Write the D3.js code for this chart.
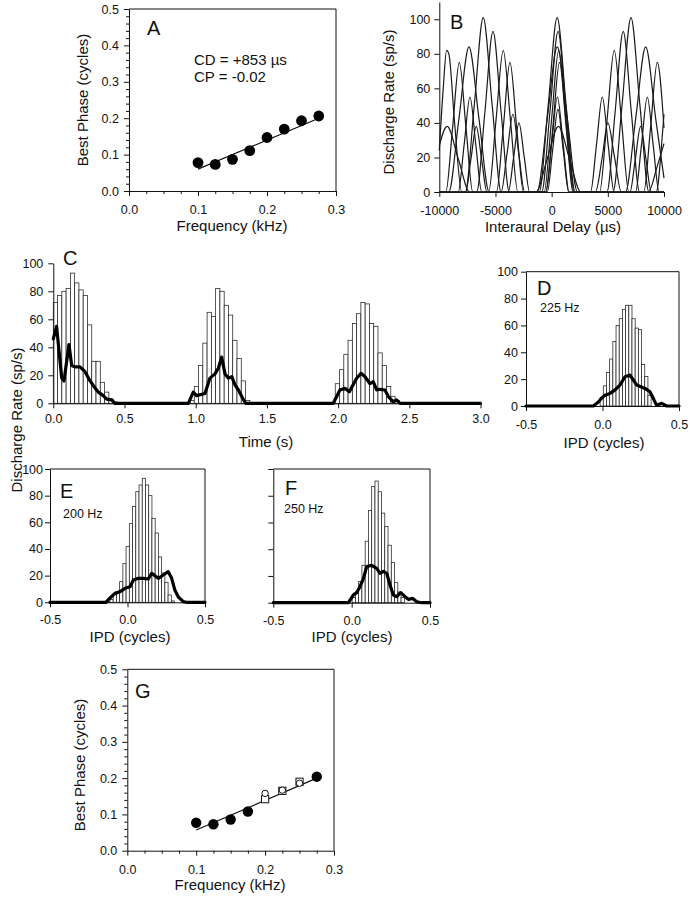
<!DOCTYPE html>
<html><head><meta charset="utf-8">
<script src="https://cdn.jsdelivr.net/npm/d3@7/dist/d3.min.js"></script>
<style>
body{margin:0;background:#fff;}
svg{display:block;font-family:"Liberation Sans",Arial,Helvetica,sans-serif;}
.tick text{font-size:12.5px;fill:#111;}
.domain,.tick line{stroke:#111;stroke-width:1;}
.title{font-size:15px;fill:#111;}
.plabel{font-size:20px;fill:#111;}
.note{font-size:12.5px;fill:#111;}
</style></head><body>
<svg id="fig" width="692" height="899"></svg>
<script>
// ---------- Panel A ----------
const aFreq  = [0.1,0.125,0.15,0.175,0.2,0.225,0.25,0.275];
const aPhase = [0.078,0.073,0.087,0.111,0.147,0.170,0.193,0.206];
const aFitFreq  = [0.1,0.275];
const aFitPhase = [0.06,0.2];
const phaseTicks = [0,0.1,0.2,0.3,0.4,0.5];
const phaseMinor = [0.02,0.04,0.06,0.08,0.12,0.14,0.16,0.18,0.22,0.24,0.26,0.28,0.32,0.34,0.36,0.38,0.42,0.44,0.46,0.48];
const freqTicks = [0,0.1,0.2,0.3];
const freqMinor = [0.025,0.05,0.075,0.125,0.15,0.175,0.225,0.25,0.275];

// ---------- Panel B (delay curves, µs vs sp/s) ----------
const b100 = [[-10000,27],[-9300,38],[-8300,19],[-7300,0],[-1400,0],[-400,19],[600,38],[1600,19],[2600,0],[8600,0],[9400,15],[10000,28]];
const b125 = [[-10000,0],[-9160,0],[-8260,42],[-7360,84],[-6460,42],[-5560,0],[-1300,0],[-400,42],[500,84],[1400,42],[2300,0],[6570,0],[7470,42],[8370,84],[9270,42],[10000,8]];
const b150 = [[-10000,0],[-7690,0],[-6890,50],[-6090,101],[-5290,50],[-4490,0],[-1110,0],[-310,50],[490,101],[1290,50],[2090,0],[5460,0],[6260,50],[7060,101],[7860,50],[8660,0],[10000,0]];
const b175 = [[-10000,0],[-6670,0],[-5945,46],[-5220,93],[-4495,46],[-3770,0],[-880,0],[-155,46],[570,93],[1295,46],[2020,0],[4920,0],[5645,46],[6370,93],[7095,46],[7820,0],[10000,0]];
const b200 = [[-10000,24],[-9650,60],[-9350,82],[-9150,80],[-8650,41],[-8000,0],[-5610,0],[-4960,41],[-4310,82],[-3660,41],[-3010,0],[-670,0],[-20,41],[630,82],[1280,41],[1930,0],[4270,0],[4920,41],[5570,82],[6220,41],[6870,0],[9300,0],[9950,41],[10000,45]];
const b225 = [[-10000,0],[-9420,0],[-8820,37],[-8220,75],[-7620,37],[-7020,0],[-4910,0],[-4310,37],[-3710,75],[-3110,37],[-2510,0],[-500,0],[100,37],[700,75],[1300,37],[1900,0],[3900,0],[4500,20],[5000,40],[5600,20],[6200,0],[8200,0],[8800,37],[9400,75],[10000,37]];
const b250 = [[-10000,0],[-8320,0],[-7795,27],[-7270,55],[-6745,27],[-6220,0],[-4500,0],[-3975,22],[-3450,45],[-2925,22],[-2400,0],[-540,0],[-15,27],[510,55],[1035,27],[1560,0],[3460,0],[3985,27],[4510,55],[5035,27],[5560,0],[7465,0],[7990,27],[8515,55],[9040,27],[9565,0],[10000,0]];
const b275 = [[-10000,0],[-7660,0],[-7185,19],[-6710,38],[-6235,19],[-5760,0],[-3860,0],[-3385,20],[-2910,40],[-2435,20],[-1960,0],[-390,0],[85,24],[560,48],[1035,24],[1510,0],[6970,0],[7445,19],[7920,38],[8395,19],[8870,0],[10000,0]];
const bCurves = [b100,b125,b150,b175,b200,b225,b250,b275];
const delayTicks = [-10000,-5000,0,5000,10000];
const rateTicks = [0,20,40,60,80,100];

// ---------- Panel C (time histogram, bins of 0.03 s) ----------
const cBinWidth = 0.03;
const cBurstStart = [0, 0.96, 1.98];
const cBars1 = [72,77,80,82,93,86,81,77,56,30,30,15,8,3,1];
const cBars2 = [2,12,27,43,65,62,82,80,70,63,45,32,16,2];
const cBars3 = [14,24,35,45,57,64,72,71,57,55,36,27,12,5,2];
const cLine = [[0,46],[0.023,55],[0.059,18],[0.075,16],[0.11,42],[0.129,27],[0.152,26],[0.187,26],[0.223,22.6],[0.258,16],[0.293,11],[0.316,8],[0.351,5.5],[0.375,3],[0.41,2.5],[0.433,0],
  [0.948,0],[0.983,8],[1.006,5.5],[1.065,7],[1.10,18],[1.135,21],[1.159,25],[1.182,33],[1.206,21],[1.229,18],[1.253,19],[1.277,13],[1.30,9.5],[1.33,3.6],[1.35,0],
  [1.966,0],[2.013,9.5],[2.048,10.7],[2.079,8.3],[2.13,17.9],[2.161,21.4],[2.189,19],[2.224,14],[2.247,15.5],[2.271,9.5],[2.294,10],[2.329,9.5],[2.353,4.8],[2.388,1],[2.411,2.4],[2.435,0],[3.0,0]];
const timeTicks = [0,0.5,1,1.5,2,2.5,3];

// ---------- Panels D, E, F (IPD histograms, bins of 1/48 cycle) ----------
const ipdBin = 1/48;
const ipdTicks = [-0.5,0,0.5];
const dStart = -0.0156;
const dBars = [6,15,25,35,48,60,65,72,75,75,65,58,57,31,22,8];
const dLine = [[-0.5,0],[-0.06,0],[-0.027,3],[-0.005,6],[0.016,8],[0.049,9.4],[0.082,12],[0.114,15.6],[0.147,21.8],[0.18,23],[0.201,19.4],[0.224,15.6],[0.25,14.4],[0.278,13.1],[0.31,10.6],[0.332,5.7],[0.354,0.5],[0.387,2],[0.42,0],[0.5,0]];
const eStart = -0.134;
const eBars = [0.5,2,6.7,8,15.5,29,42,59,72,83,88,93,88,80,63,52,34,22,15,5.5,1];
const eLine = [[-0.5,0],[-0.14,0],[-0.12,2.5],[-0.081,6.7],[-0.048,8],[-0.016,10.5],[0.016,11.7],[0.038,16.7],[0.07,18],[0.102,18],[0.134,17.5],[0.156,21.7],[0.177,20],[0.199,18],[0.231,20.5],[0.263,23],[0.285,18],[0.306,9],[0.328,4],[0.36,0.5],[0.38,0],[0.5,0]];
const fStart = 0.003;
const fBars = [4,8,16,28,46,69,87,91,83,67,57,43,30,15,8,4];
const fLine = [[-0.5,0],[-0.02,0],[0.01,5.7],[0.032,7.5],[0.053,12],[0.075,18],[0.096,27],[0.128,28],[0.16,25.7],[0.181,22],[0.202,23.4],[0.224,22],[0.245,13.2],[0.266,5.7],[0.288,4.5],[0.313,7.5],[0.341,4.5],[0.362,2.5],[0.39,3.2],[0.415,0.7],[0.447,0],[0.5,0]];

// ---------- Panel G ----------
const gFilledFreq  = [0.1,0.125,0.15,0.175,0.275];
const gFilledPhase = [0.077,0.073,0.086,0.108,0.204];
const gCircFreq  = [0.2,0.225,0.25];
const gCircPhase = [0.158,0.167,0.186];
const gSqFreq  = [0.2,0.225,0.25];
const gSqPhase = [0.142,0.165,0.19];
const gFitFreq  = [0.1,0.275];
const gFitPhase = [0.057,0.2];

// =================== drawing ===================
const svg = d3.select("#fig");
const f1 = d => d.toFixed(1);
const fInt = d => String(d);
const none = () => "";

function axes(p){
  const g = svg.append("g");
  const xr = p.x.range(), yr = p.y.range();
  g.append("g").attr("transform",`translate(0,${yr[0]})`)
    .call(d3.axisBottom(p.x).tickValues(p.xTicks).tickFormat(p.xFmt).tickSize(5).tickSizeOuter(0).tickPadding(p.xPad));
  if (p.xMinor) {
    const m = g.append("g").attr("transform",`translate(0,${yr[0]})`)
      .call(d3.axisBottom(p.x).tickValues(p.xMinor).tickFormat(none).tickSize(3).tickSizeOuter(0));
    m.select(".domain").remove();
  }
  g.append("g").attr("transform",`translate(${xr[0]},0)`)
    .call(d3.axisLeft(p.y).tickValues(p.yTicks).tickFormat(p.yFmt).tickSize(5).tickSizeOuter(0).tickPadding(p.yPad));
  if (p.yMinor) {
    const m = g.append("g").attr("transform",`translate(${xr[0]},0)`)
      .call(d3.axisLeft(p.y).tickValues(p.yMinor).tickFormat(none).tickSize(3).tickSizeOuter(0));
    m.select(".domain").remove();
  }
  if (p.box) {
    g.append("line").attr("x1",xr[0]).attr("x2",xr[1]).attr("y1",yr[1]).attr("y2",yr[1]).attr("stroke","#111");
    g.append("line").attr("x1",xr[1]).attr("x2",xr[1]).attr("y1",yr[0]).attr("y2",yr[1]).attr("stroke","#111");
  }
  return g;
}
function ytitle(txt, bx, cy){
  svg.append("text").attr("class","title").attr("text-anchor","middle")
    .attr("transform",`translate(${bx},${cy}) rotate(-90)`).text(txt);
}
function xtitle(txt, cx, by){
  svg.append("text").attr("class","title").attr("text-anchor","middle").attr("x",cx).attr("y",by).text(txt);
}
function plabel(txt,x,y){ svg.append("text").attr("class","plabel").attr("x",x).attr("y",y).text(txt); }
function note(txt,x,y,cls){ svg.append("text").attr("class",cls||"note").attr("x",x).attr("y",y).text(txt); }

function bars(x, y, start, w, vals){
  svg.append("g").selectAll("rect").data(vals).join("rect")
    .attr("x",(v,i)=>x(start+i*w)).attr("width",(v,i)=>x(start+(i+1)*w)-x(start+i*w))
    .attr("y",v=>y(v)).attr("height",v=>y(0)-y(v))
    .attr("fill","#fff").attr("stroke","#222").attr("stroke-width",0.75);
}
function thick(x, y, pts){
  svg.append("path").datum(pts)
    .attr("d", d3.line().x(d=>x(d[0])).y(d=>y(d[1])))
    .attr("fill","none").attr("stroke","#000").attr("stroke-width",3.2).attr("stroke-linejoin","round").attr("stroke-linecap","round");
}

// ---- A ----
{
  const x = d3.scaleLinear().domain([0,0.3]).range([129,336]);
  const y = d3.scaleLinear().domain([0,0.5]).range([191,9]);
  axes({x,y,xTicks:freqTicks,xMinor:freqMinor,xFmt:f1,xPad:9,yTicks:phaseTicks,yMinor:phaseMinor,yFmt:f1,yPad:5,box:true});
  svg.append("path").datum(d3.zip(aFitFreq,aFitPhase))
    .attr("d",d3.line().x(d=>x(d[0])).y(d=>y(d[1]))).attr("stroke","#111").attr("stroke-width",1.2).attr("fill","none");
  svg.append("g").selectAll("circle").data(d3.zip(aFreq,aPhase)).join("circle")
    .attr("cx",d=>x(d[0])).attr("cy",d=>y(d[1])).attr("r",5.4).attr("fill","#000");
  plabel("A",147,35);
  note("CD = +853 µs",194,65,"title");
  note("CP = -0.02",194,82,"title");
  ytitle("Best Phase (cycles)",87.5,100);
  xtitle("Frequency (kHz)",232,231);
}
// ---- B ----
{
  const x = d3.scaleLinear().domain([-10000,10000]).range([439.3,664]);
  const y = d3.scaleLinear().domain([0,110]).range([192,2]);
  axes({x,y,xTicks:delayTicks,xFmt:fInt,xPad:9,yTicks:rateTicks,yFmt:fInt,yPad:4,box:false});
  const line = d3.line().x(d=>x(d[0])).y(d=>y(d[1])).curve(d3.curveMonotoneX);
  svg.append("g").selectAll("path").data(bCurves).join("path")
    .attr("d",line).attr("fill","none").attr("stroke","#1a1a1a").attr("stroke-width",1.2);
  plabel("B",450,28.5);
  ytitle("Discharge Rate (sp/s)",393.5,102);
  xtitle("Interaural Delay (µs)",553,232);
}
// ---- C ----
{
  const x = d3.scaleLinear().domain([0,3]).range([53.3,480.5]);
  const y = d3.scaleLinear().domain([0,100]).range([403.3,263.3]);
  bars(x,y,cBurstStart[0],cBinWidth,cBars1);
  bars(x,y,cBurstStart[1],cBinWidth,cBars2);
  bars(x,y,cBurstStart[2],cBinWidth,cBars3);
  axes({x,y,xTicks:timeTicks,xFmt:f1,xPad:6,yTicks:rateTicks,yFmt:fInt,yPad:5,box:false});
  thick(x,y,cLine);
  plabel("C",63,265);
  xtitle("Time (s)",266,447);
}
// ---- D ----
{
  const x = d3.scaleLinear().domain([-0.5,0.5]).range([526,679]);
  const y = d3.scaleLinear().domain([0,100]).range([406,271.7]);
  bars(x,y,dStart,ipdBin,dBars);
  axes({x,y,xTicks:ipdTicks,xFmt:f1,xPad:9.5,yTicks:rateTicks,yFmt:fInt,yPad:3,box:true});
  thick(x,y,dLine);
  plabel("D",537,295);
  note("225 Hz",540,311.5);
  xtitle("IPD (cycles)",604,447.5);
}
// ---- E ----
{
  const x = d3.scaleLinear().domain([-0.5,0.5]).range([50,205]);
  const y = d3.scaleLinear().domain([0,100]).range([602.3,469]);
  bars(x,y,eStart,ipdBin,eBars);
  axes({x,y,xTicks:ipdTicks,xFmt:f1,xPad:8,yTicks:rateTicks,yFmt:fInt,yPad:2,box:true});
  thick(x,y,eLine);
  plabel("E",60,498.3);
  note("200 Hz",63,518.3);
  xtitle("IPD (cycles)",130,641.5);
}
ytitle("Discharge Rate (sp/s)",21.5,420);
// ---- F ----
{
  const x = d3.scaleLinear().domain([-0.5,0.5]).range([273.3,430]);
  const y = d3.scaleLinear().domain([0,100]).range([602.7,469]);
  bars(x,y,fStart,ipdBin,fBars);
  axes({x,y,xTicks:ipdTicks,xFmt:f1,xPad:8,yTicks:rateTicks,yFmt:none,yPad:2,box:true});
  thick(x,y,fLine);
  plabel("F",285,495);
  note("250 Hz",284,513.3);
  xtitle("IPD (cycles)",352,641.5);
}
// ---- G ----
{
  const x = d3.scaleLinear().domain([0,0.3]).range([127.3,334]);
  const y = d3.scaleLinear().domain([0,0.5]).range([850.7,669.3]);
  axes({x,y,xTicks:freqTicks,xMinor:freqMinor,xFmt:f1,xPad:9,yTicks:phaseTicks,yMinor:phaseMinor,yFmt:f1,yPad:5,box:true});
  svg.append("path").datum(d3.zip(gFitFreq,gFitPhase))
    .attr("d",d3.line().x(d=>x(d[0])).y(d=>y(d[1]))).attr("stroke","#111").attr("stroke-width",1.2).attr("fill","none");
  svg.append("g").selectAll("circle").data(d3.zip(gFilledFreq,gFilledPhase)).join("circle")
    .attr("cx",d=>x(d[0])).attr("cy",d=>y(d[1])).attr("r",5.2).attr("fill","#000");
  svg.append("g").selectAll("rect").data(d3.zip(gSqFreq,gSqPhase)).join("rect")
    .attr("x",d=>x(d[0])-3.6).attr("y",d=>y(d[1])-3.6).attr("width",7.2).attr("height",7.2)
    .attr("fill","#fff").attr("stroke","#111").attr("stroke-width",1);
  svg.append("g").selectAll("circle").data(d3.zip(gCircFreq,gCircPhase)).join("circle")
    .attr("cx",d=>x(d[0])).attr("cy",d=>y(d[1])).attr("r",3.2)
    .attr("fill","#fff").attr("stroke","#111").attr("stroke-width",1);
  plabel("G",135,698.3);
  ytitle("Best Phase (cycles)",85,765);
  xtitle("Frequency (kHz)",230,890);
}
</script>
</body></html>
